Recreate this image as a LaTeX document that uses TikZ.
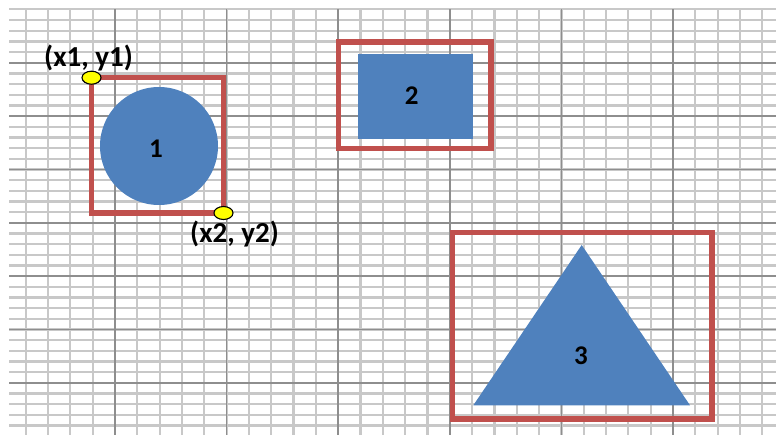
\documentclass[tikz,border=0pt]{standalone}
\usepackage{fontspec}
\setmainfont{Carlito}
\usetikzlibrary{positioning,shapes.geometric}
\definecolor{gridmin}{HTML}{C8C8C8}
\definecolor{gridmaj}{HTML}{8E8E8E}
\definecolor{boxred}{HTML}{C0504D}
\definecolor{shapeblue}{HTML}{4F81BD}
\definecolor{markyel}{HTML}{FFFF00}
\tikzset{
  minline/.style={draw=gridmin, line width=2.2pt},
  majline/.style={draw=gridmaj, line width=1.6pt},
  bbox/.style={draw=boxred, line width=5.2pt},
  shp/.style={fill=shapeblue, draw=none},
  num/.style={font=\bfseries\fontsize{27}{27}\selectfont, text=black, inner sep=0pt},
  corner/.style={ellipse, fill=markyel, draw=black, line width=1.1pt,
    minimum width=19pt, minimum height=13pt, inner sep=0pt},
  clab/.style={font=\bfseries\fontsize{29}{29}\selectfont, text=black, inner sep=0pt},
}

\begin{document}
\begin{tikzpicture}[x=1pt,y=-1pt]
  \useasboundingbox (0,0) rectangle (776,435);
  % squared paper, every fifth line darker
  \foreach \k in {0,...,39}
    \draw[minline] (9,9.4+10.67*\k) -- (776,9.4+10.67*\k);
  \foreach \m in {-4,...,29}
    \draw[minline] (115+22.32*\m,9.4) -- (115+22.32*\m,435);
  \foreach \k in {5,10,...,35}
    \draw[majline] (9,9.4+10.67*\k) -- (776,9.4+10.67*\k);
  \foreach \m in {0,5,...,25}
    \draw[majline] (115+22.32*\m,9.4) -- (115+22.32*\m,435);

  % shape 1: circle with its bounding box
  \node[shp, circle, minimum size=118pt, inner sep=0pt] (circ) at (159,146) {};
  \node[num] (n1) at (156,148.5) {1};
  \draw[bbox] (91.5,77.7) coordinate (tl) rectangle (223.5,213) coordinate (br);
  \node[corner] (m1) at (tl) {};
  \node[corner] (m2) at (br) {};
  \node[clab, above=-1pt of m1, xshift=-3pt] (l1) {(x1, y1)};
  \node[clab, below=1pt of m2, xshift=11pt] (l2) {(x2, y2)};

  % shape 2: rectangle
  \fill[shp] (358.3,53.7) rectangle (473,139.3);
  \node[num] (n2) at (411.7,95.8) {2};
  \draw[bbox] (338.3,42) rectangle (491,148.3);

  % shape 3: triangle
  \fill[shp] (581.7,245) coordinate (apex) -- (690,405.3) coordinate (rb)
    -- (473.3,405.3) coordinate (lb) -- cycle;
  \node[num] (n3) at (581,355.5) {3};
  \draw[bbox] (452.5,232.5) rectangle (712,419);
\end{tikzpicture}
\end{document}
